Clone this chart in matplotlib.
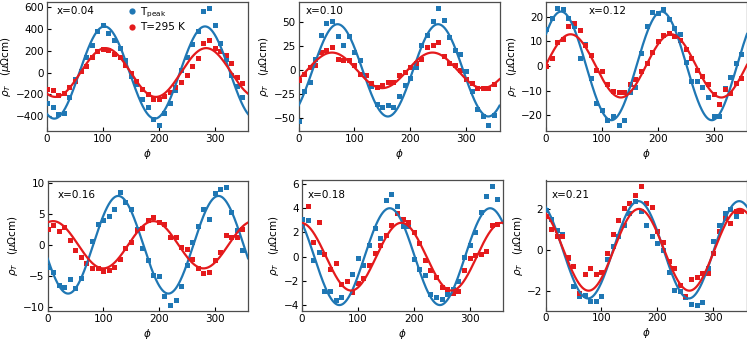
import numpy as np
import matplotlib
matplotlib.use("Agg")
import matplotlib.pyplot as plt
from matplotlib.lines import Line2D
from matplotlib.ticker import MultipleLocator

# ---------------- data ----------------
phi = np.arange(0, 360, 10)  # measurement angles (deg)

labels = ["x=0.04", "x=0.10", "x=0.12", "x=0.16", "x=0.18", "x=0.21"]

# T_peak series (blue)
peak_004 = [-285, -316, -386, -370, -225, -60, 10, 140, 250, 385, 440, 360, 300, 225, 120,
            -30, -110, -240, -316, -430, -485, -370, -285, -165, 20, 140, 260, 385, 565, 596,
            435, 268, 125, -20, -120, -225]
peak_010 = [-53, -21, -12, 12, 37, 49, 51, 36, 26, 36, 19, 11, -5, -16, -35, -38, -36, -38,
            -27, -15, -8, 3, 26, 37, 51, 65, 52, 35, 21, 17, -1, -21, -40, -47, -57, -46]
peak_012 = [15, 19.5, 23.5, 23, 19.5, 16, 3, 9, -5, -15, -18, -22, -20.5, -24, -22, -10.5,
            -8.5, 5.4, 16, 22, 21.5, 23.2, 18.8, 15.4, 12.8, 1.7, -6, -6, -8.5, -12.5, -20.1,
            -20.5, -9, -4.7, 1.3, 5]
peak_016 = [-3.5, -4.3, -6.5, -6.8, -5.5, -6.9, -5.3, -3.0, 0.6, 3.3, 4.0, 4.6, 5.7, 8.5, 6.9,
            5.8, 2.5, -0.6, -2.4, -4.8, -5.0, -8.2, -9.7, -8.9, -6.6, -3.2, 0.5, 3.0, 5.8, 4.1,
            8.4, 9.0, 9.3, 5.3, 2.3, -0.9]
peak_018 = [3.1, 3.0, -0.3, 0.35, -2.85, -2.85, -3.6, -3.3, -2.05, -1.45, -0.1, -0.7, 1.0, 2.4,
            1.5, 4.7, 5.2, 4.2, 2.5, 2.55, -0.2, -1.0, -1.5, -3.1, -3.3, -3.5, -3.05, -2.7,
            -2.0, 0.0, 1.0, 2.05, 3.65, 5.0, 5.8, 4.75]
peak_021 = [1.95, 1.5, 0.95, 0.75, -0.4, -1.75, -2.27, -2.2, -2.5, -2.5, -2.27, -0.47, 0.2,
            0.67, 1.2, 1.8, 2.4, 1.9, 1.2, 0.67, 0.34, 0.0, -1.1, -1.95, -2.0, -2.3, -2.64,
            -2.68, -2.54, -0.88, 0.42, 1.2, 1.8, 2.0, 1.65, 1.9]

# T = 295 K series (red)
rt_004 = [-150, -160, -205, -185, -130, -75, 10, 60, 140, 200, 220, 210, 175, 140, 70, 0,
          -75, -150, -200, -245, -240, -220, -180, -130, -85, -20, 60, 130, 268, 298, 225,
          200, 160, 90, -45, -100]
rt_010 = [-10, -4, 3, 6, 19, 21, 24, 12, 11, 11, 6, -4, -5, -13, -17, -15, -12, -12, -5, -2,
          3, 8, 12, 24, 26, 29, 15, 8, 6, 0, -9, -13, -18, -18, -18, -14]
rt_012 = [0, 3, 9.5, 11, 16, 17.5, 14.5, 8.5, 4.5, -1.5, -2, -7.5, -10, -10.5, -10.5, -7.5,
          -5.5, -2, 1, 5.5, 10, 12.5, 13.5, 12, 10.5, 7, 3, -1.5, -4, -7.5, -11.5, -15.5,
          -9.5, -11, -7, -5]
rt_016 = [2.5, 3.2, 2.2, 2.8, 0.8, -0.9, -2.0, -3.0, -3.8, -3.8, -4.2, -4.0, -3.5, -2.3, -0.6,
          0.5, 2.3, 2.7, 3.9, 4.5, 3.6, 3.3, 1.3, 1.2, -0.3, -0.7, -2.3, -3.8, -4.5, -4.3,
          -2.4, -1.2, 1.5, 1.3, 1.3, 2.6]
rt_018 = [2.6, 4.2, 1.2, 2.85, 0.2, -1.05, -0.5, -2.3, -2.0, -2.9, -2.15, -1.8, -0.7, 0.3, 1.0,
          1.8, 2.6, 3.6, 3.15, 2.9, 2.0, 1.1, -0.3, -1.1, -1.7, -2.5, -2.7, -3.0, -2.8, -1.1,
          -0.1, 0.1, 0.2, 0.5, 2.6, 2.7]
rt_021 = [1.65, 1.0, 0.67, 0.67, -0.36, -0.77, -2.1, -1.2, -0.88, -1.2, -1.1, -0.15, 0.75,
          1.45, 2.05, 2.3, 2.68, 3.1, 2.3, 2.1, 0.9, 0.4, -0.55, -0.88, -1.7, -2.27, -1.45,
          -1.34, -1.13, -1.13, -0.15, 0.9, 1.57, 1.32, 1.89, 1.89]

peak_series = [peak_004, peak_010, peak_012, peak_016, peak_018, peak_021]
rt_series = [rt_004, rt_010, rt_012, rt_016, rt_018, rt_021]

# fit parameters: rho = A * cos(2*(phi - phi0))
peak_amp = [425, 48, 22, 7.85, 4.0, 2.38]
peak_phi0 = [103, 70, 27, 127, 157, 166]
rt_amp = [225, 18.5, 12.8, 3.8, 2.8, 2.0]
rt_phi0 = [105, 60, 44, 10, 178, 167]

ytick_step = [200, 25, 10, 5, 2, 2]

# ---------------- style ----------------
BLUE = "#1f77b4"
RED = "#e41a1c"
plt.rcParams["font.family"] = ["DejaVu Sans"]
plt.rcParams["font.size"] = 7.5

fig = plt.figure(figsize=(7.47, 3.40), dpi=100)
W, H = 747.0, 340.0
# axes boxes in pixels: (left, top, right, bottom)
boxes = [
    (47, 2, 248, 131), (298.5, 2, 499.5, 131), (546, 2, 747, 131),
    (47.5, 181, 248, 311), (302, 180.5, 503, 311), (545.5, 180.5, 747, 310.5),
]
label_pos = [(0.05, 0.97), (0.035, 0.97), (0.21, 0.97), (0.05, 0.93), (0.03, 0.93), (0.03, 0.93)]

grid = np.linspace(0, 360, 721)
for i in range(6):
    l, t, r, b = boxes[i]
    ax = fig.add_axes([l / W, 1 - b / H, (r - l) / W, (b - t) / H])
    ax.plot(phi, peak_series[i], "s", color=BLUE, ms=3.6, mew=0, zorder=3)
    ax.plot(phi, rt_series[i], "s", color=RED, ms=3.6, mew=0, zorder=3)
    ax.plot(grid, peak_amp[i] * np.cos(np.radians(2 * (grid - peak_phi0[i]))),
            color=BLUE, lw=1.6, zorder=4)
    ax.plot(grid, rt_amp[i] * np.cos(np.radians(2 * (grid - rt_phi0[i]))),
            color=RED, lw=1.6, zorder=5)
    ax.set_xlim(0, 360)
    ax.xaxis.set_major_locator(MultipleLocator(100))
    ax.yaxis.set_major_locator(MultipleLocator(ytick_step[i]))
    ax.tick_params(direction="in", length=3, width=0.8, labelsize=7.5, pad=2)
    for s in ax.spines.values():
        s.set_color("0.3")
        s.set_linewidth(0.9)
    ax.set_xlabel(r"$\phi$", fontsize=7.5, labelpad=2)
    ax.set_ylabel(r"$\rho_T$   ($\mu\Omega$cm)", fontsize=7.5, labelpad=2)
    ax.text(label_pos[i][0], label_pos[i][1], labels[i], transform=ax.transAxes,
            ha="left", va="top", fontsize=7.5)
    if i == 0:
        handles = [Line2D([], [], ls="", marker="o", color=BLUE, ms=4.5, mew=0),
                   Line2D([], [], ls="", marker="o", color=RED, ms=4.5, mew=0)]
        ax.legend(handles, [r"T$_{\rm peak}$", "T=295 K"], loc="upper left",
                  bbox_to_anchor=(0.36, 1.03), frameon=False, handlelength=1.0,
                  handletextpad=0.3, labelspacing=0.25, borderpad=0.2, fontsize=7.5)

fig.savefig("out.png", dpi=100)
